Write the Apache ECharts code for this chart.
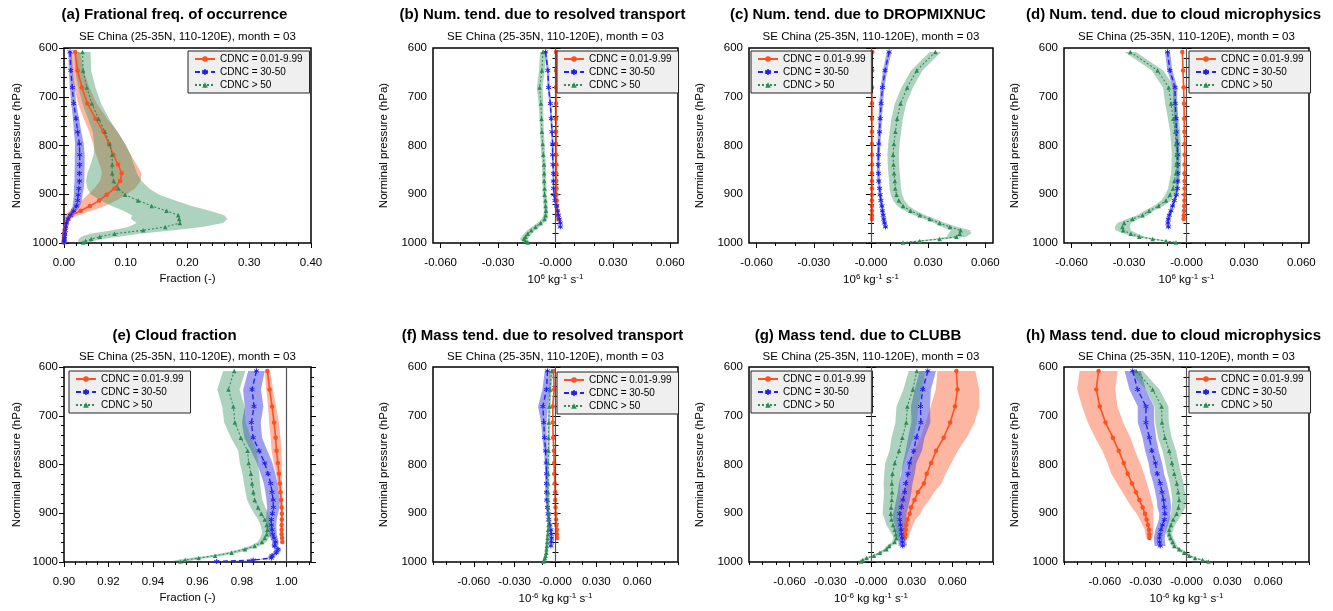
<!DOCTYPE html>
<html>
<head>
<meta charset="utf-8">
<title>CDNC profiles</title>
<script src="https://cdn.jsdelivr.net/npm/echarts@6.0.0/dist/echarts.min.js"></script>
<style>
  html, body { margin: 0; padding: 0; background: #fff; }
  #main { width: 1333px; height: 611px; }
</style>
</head>
<body>
<div id="main"></div>
<script>
// model levels (hPa)
var LEV = [608, 646, 681, 714, 745, 772, 797, 819, 839, 857, 873, 888, 901, 913, 924, 934, 943, 951, 959, 967, 974, 981, 987, 992, 996, 999];
var NAMES = ['CDNC = 0.01-9.99', 'CDNC = 30-50', 'CDNC > 50'];

// tick labels
var FRAC_TICKS = [0, 0.1, 0.2, 0.3, 0.4];
var CF_TICKS = [0.90, 0.92, 0.94, 0.96, 0.98, 1.00];
var TEND_TICKS = [-0.06, -0.03, 0, 0.03, 0.06];
var P_TICKS = [600, 700, 800, 900, 1000];

// (a) fractional frequency of occurrence
var aOrange = [0.018, 0.022, 0.029, 0.038, 0.051, 0.064, 0.073, 0.080, 0.0875, 0.0935, 0.091, 0.082, 0.069, 0.057, 0.042, 0.027, 0.012, 0.0065, 0.004, 0.002, 0.001, 0.0005, 0.0003, 0.0002, 0.0001, 0];
var aOrangeSd = [0.008, 0.010, 0.012, 0.015, 0.019, 0.023, 0.026, 0.028, 0.030, 0.032, 0.033, 0.033, 0.031, 0.028, 0.024, 0.018, 0.010, 0.005, 0.003, 0.002, 0.001, 0.001, 0.001, 0.001, 0.001, 0.001];
var aBlue = [0.0097, 0.011, 0.0135, 0.0157, 0.0195, 0.022, 0.025, 0.0254, 0.0254, 0.025, 0.025, 0.024, 0.023, 0.022, 0.020, 0.0157, 0.010, 0.0065, 0.004, 0.003, 0.002, 0.0012, 0.0008, 0.0005, 0.0002, 0.0001];
var aBlueSd = [0.003, 0.003, 0.004, 0.004, 0.005, 0.006, 0.007, 0.008, 0.008, 0.008, 0.008, 0.008, 0.007, 0.007, 0.006, 0.005, 0.004, 0.003, 0.002, 0.002, 0.001, 0.001, 0.001, 0.001, 0.001, 0.001];
var aGreen = [0.030, 0.031, 0.037, 0.045, 0.056, 0.0665, 0.074, 0.078, 0.078, 0.078, 0.0805, 0.088, 0.099, 0.120, 0.142, 0.166, 0.185, 0.1865, 0.1876, 0.164, 0.128, 0.082, 0.058, 0.044, 0.035, 0.031];
var aGreenSd = [0.013, 0.013, 0.014, 0.015, 0.017, 0.020, 0.025, 0.030, 0.035, 0.040, 0.045, 0.050, 0.055, 0.060, 0.065, 0.070, 0.075, 0.078, 0.070, 0.060, 0.050, 0.040, 0.030, 0.020, 0.012, 0.008];

// (b) number tendency, resolved transport
var bOrange = [0.0003, 0.0003, 0.0003, 0.0003, 0.0003, 0.0003, 0.0003, 0.0003, 0.0004, 0.0004, 0.0004, 0.0005, 0.0005, 0.0006, 0.0007, 0.0009, 0.0012, 0.0015];
var bOrangeSd = [0.0004, 0.0004, 0.0004, 0.0004, 0.0004, 0.0004, 0.0004, 0.0004, 0.0004, 0.0004, 0.0004, 0.0004, 0.0004, 0.0004, 0.0004, 0.0004, 0.0004, 0.0004];
var bBlue = [-0.0052, -0.004, -0.0036, -0.0027, -0.0022, -0.0018, -0.0015, -0.0015, -0.0013, -0.0011, -0.0011, -0.001, -0.0008, -0.0003, 0.0006, 0.0011, 0.0015, 0.002, 0.0025, 0.0025];
var bBlueSd = [0.0006, 0.0006, 0.0006, 0.0005, 0.0005, 0.0005, 0.0005, 0.0005, 0.0005, 0.0005, 0.0005, 0.0005, 0.0005, 0.0005, 0.0005, 0.0005, 0.0005, 0.0005, 0.0006, 0.0006];
var bGreen = [-0.0066, -0.0071, -0.0083, -0.0076, -0.0073, -0.0071, -0.0067, -0.0064, -0.006, -0.0059, -0.0059, -0.0057, -0.0057, -0.0053, -0.0052, -0.005, -0.0052, -0.0057, -0.0078, -0.0104, -0.0127, -0.0145, -0.0157, -0.0166, -0.0157, -0.0145];
var bGreenSd = [0.0015, 0.0015, 0.0015, 0.0012, 0.001, 0.001, 0.001, 0.001, 0.001, 0.001, 0.001, 0.001, 0.001, 0.001, 0.001, 0.001, 0.0012, 0.0015, 0.0018, 0.002, 0.002, 0.002, 0.002, 0.002, 0.0018, 0.0015];

// (c) number tendency, DROPMIXNUC
var cOrange = [0.0007, 0.0006, 0.0005, 0.0005, 0.0005, 0.0005, 0.0005, 0.0005, 0.0005, 0.0005, 0.0005, 0.0005, 0.0005, 0.0005, 0.0005, 0.0005, 0.0005, 0.0005];
var cOrangeSd = [0.0003, 0.0003, 0.0003, 0.0003, 0.0003, 0.0003, 0.0003, 0.0003, 0.0003, 0.0003, 0.0003, 0.0003, 0.0003, 0.0003, 0.0003, 0.0003, 0.0003, 0.0003];
var cBlue = [0.0095, 0.0074, 0.006, 0.0053, 0.0048, 0.0045, 0.0041, 0.0039, 0.0038, 0.0039, 0.0041, 0.0045, 0.0048, 0.0052, 0.0057, 0.006, 0.0064, 0.0067, 0.0071, 0.0076];
var cBlueSd = [0.0012, 0.0011, 0.001, 0.001, 0.0009, 0.0009, 0.0008, 0.0008, 0.0008, 0.0008, 0.0008, 0.0008, 0.0008, 0.0008, 0.0008, 0.0008, 0.0008, 0.0008, 0.0008, 0.0008];
var cGreen = [0.0338, 0.024, 0.019, 0.0155, 0.0137, 0.0128, 0.012, 0.0116, 0.0118, 0.0121, 0.0125, 0.0127, 0.0134, 0.0146, 0.0168, 0.0207, 0.0256, 0.0308, 0.036, 0.0413, 0.047, 0.0466, 0.0448, 0.036, 0.0256, 0.0168];
var cGreenSd = [0.003, 0.003, 0.003, 0.003, 0.003, 0.003, 0.003, 0.003, 0.003, 0.003, 0.003, 0.003, 0.003, 0.003, 0.003, 0.003, 0.003, 0.003, 0.003, 0.004, 0.005, 0.006, 0.005, 0.004, 0.003, 0.002];

// (d) number tendency, cloud microphysics
var dOrange = [-0.0022, -0.0018, -0.0015, -0.0013, -0.0012, -0.0011, -0.001, -0.001, -0.001, -0.001, -0.001, -0.001, -0.001, -0.0011, -0.0012, -0.0013, -0.0014, -0.0015];
var dOrangeSd = [0.0003, 0.0003, 0.0003, 0.0003, 0.0003, 0.0003, 0.0003, 0.0003, 0.0003, 0.0003, 0.0003, 0.0003, 0.0003, 0.0003, 0.0003, 0.0003, 0.0003, 0.0003];
var dBlue = [-0.0099, -0.0087, -0.006, -0.0059, -0.0055, -0.0053, -0.0048, -0.0046, -0.0046, -0.0046, -0.0046, -0.0048, -0.0053, -0.0064, -0.0073, -0.0081, -0.009, -0.0095, -0.0097, -0.0095];
var dBlueSd = [0.0013, 0.0013, 0.0012, 0.001, 0.001, 0.0009, 0.0008, 0.0008, 0.0008, 0.0008, 0.0008, 0.0008, 0.0008, 0.0008, 0.0008, 0.0008, 0.0008, 0.0008, 0.0008, 0.0008];
var dGreen = [-0.0294, -0.0151, -0.0093, -0.0081, -0.0069, -0.0059, -0.0055, -0.0052, -0.0053, -0.0055, -0.0064, -0.0071, -0.0087, -0.0107, -0.0146, -0.0195, -0.023, -0.0282, -0.0326, -0.0335, -0.0331, -0.0291, -0.0247, -0.0177, -0.0107, -0.0055];
var dGreenSd = [0.003, 0.003, 0.003, 0.003, 0.0028, 0.0026, 0.0025, 0.0025, 0.0025, 0.0025, 0.0025, 0.0025, 0.0025, 0.0025, 0.0025, 0.0025, 0.0028, 0.003, 0.0035, 0.004, 0.004, 0.0035, 0.003, 0.0025, 0.002, 0.0015];

// (e) cloud fraction
var eOrange = [0.9914, 0.9924, 0.9935, 0.9944, 0.9951, 0.9955, 0.9961, 0.9966, 0.997, 0.9973, 0.9976, 0.9978, 0.9979, 0.9979, 0.9978, 0.9978, 0.9978, 0.998, 0.9981];
var eOrangeSd = [0.0012, 0.0015, 0.0018, 0.0022, 0.0022, 0.0022, 0.0018, 0.0012, 0.001, 0.0008, 0.0007, 0.0007, 0.0006, 0.0006, 0.0006, 0.0006, 0.0006, 0.0006, 0.0006];
var eBlue = [0.9865, 0.9845, 0.9854, 0.9842, 0.985, 0.9877, 0.9902, 0.9917, 0.9929, 0.9935, 0.994, 0.9941, 0.9936, 0.9932, 0.9932, 0.9935, 0.9938, 0.9944, 0.995, 0.9947, 0.9961, 0.9954, 0.9935, 0.9932, 0.985, 0.9686];
var eBlueSd = [0.0037, 0.004, 0.0042, 0.0042, 0.004, 0.0037, 0.0035, 0.0033, 0.0031, 0.003, 0.003, 0.0028, 0.0026, 0.0024, 0.0022, 0.002, 0.0018, 0.0016, 0.0015, 0.0015, 0.0015, 0.0015, 0.0015, 0.0015, 0.0015, 0.0015];
var eGreen = [0.9765, 0.9739, 0.9761, 0.9768, 0.9795, 0.9825, 0.983, 0.984, 0.9845, 0.9851, 0.9857, 0.9872, 0.9887, 0.9902, 0.9911, 0.9914, 0.9911, 0.9902, 0.989, 0.9857, 0.9813, 0.9753, 0.9679, 0.9605, 0.9545, 0.9523];
var eGreenSd = [0.005, 0.005, 0.005, 0.0048, 0.0045, 0.0042, 0.004, 0.0038, 0.0036, 0.0035, 0.0034, 0.0033, 0.0032, 0.003, 0.0028, 0.0025, 0.0022, 0.002, 0.002, 0.0022, 0.0025, 0.003, 0.0035, 0.004, 0.004, 0.004];

// (f) mass tendency, resolved transport
var fOrange = [-0.0015, -0.001, -0.002, -0.002, -0.0017, -0.0012, -0.001, -0.0008, -0.0005, -0.0002, -0.0002, 0, 0.0002, 0.0005, 0.0007, 0.001, 0.001, 0.0012];
var fOrangeSd = [0.0006, 0.0006, 0.0006, 0.0005, 0.0005, 0.0005, 0.0005, 0.0005, 0.0005, 0.0005, 0.0005, 0.0005, 0.0005, 0.0005, 0.0005, 0.0005, 0.0005, 0.0005];
var fBlue = [-0.0059, -0.0066, -0.0093, -0.0086, -0.0081, -0.0073, -0.0068, -0.0066, -0.0066, -0.0066, -0.0064, -0.0059, -0.0054, -0.0049, -0.0042, -0.0034, -0.0032, -0.0029, -0.0032, -0.0034];
var fBlueSd = [0.002, 0.003, 0.0035, 0.002, 0.0015, 0.0012, 0.001, 0.001, 0.001, 0.001, 0.001, 0.001, 0.001, 0.001, 0.001, 0.001, 0.001, 0.001, 0.001, 0.001];
var fGreen = [-0.0029, -0.0039, -0.0046, -0.0049, -0.0051, -0.0051, -0.0054, -0.0054, -0.0054, -0.0054, -0.0054, -0.0054, -0.0051, -0.0051, -0.0051, -0.0054, -0.0056, -0.0059, -0.0061, -0.0064, -0.0066, -0.0068, -0.0073, -0.0078, -0.0083, -0.0088];
var fGreenSd = [0.001, 0.001, 0.001, 0.001, 0.001, 0.001, 0.001, 0.001, 0.001, 0.001, 0.001, 0.001, 0.001, 0.001, 0.001, 0.001, 0.001, 0.001, 0.001, 0.001, 0.001, 0.001, 0.001, 0.001, 0.001, 0.001];

// (g) mass tendency, CLUBB
var gOrange = [0.063, 0.0638, 0.062, 0.0584, 0.0536, 0.048, 0.0443, 0.0411, 0.039, 0.0346, 0.0321, 0.0295, 0.0285, 0.0268, 0.026, 0.0256, 0.0253, 0.025];
var gOrangeSd = [0.014, 0.016, 0.018, 0.018, 0.017, 0.016, 0.015, 0.014, 0.013, 0.012, 0.011, 0.009, 0.008, 0.006, 0.005, 0.004, 0.003, 0.003];
var gBlue = [0.0419, 0.0382, 0.0365, 0.0368, 0.0334, 0.0316, 0.0285, 0.0273, 0.0256, 0.0248, 0.0236, 0.0224, 0.0212, 0.0212, 0.0217, 0.0222, 0.0224, 0.0229, 0.0231, 0.0234];
var gBlueSd = [0.006, 0.006, 0.007, 0.007, 0.006, 0.006, 0.005, 0.005, 0.005, 0.005, 0.005, 0.005, 0.005, 0.005, 0.004, 0.004, 0.003, 0.003, 0.003, 0.003];
var gGreen = [0.0338, 0.0309, 0.0268, 0.026, 0.0231, 0.0207, 0.0175, 0.0158, 0.0153, 0.0156, 0.0153, 0.0148, 0.0146, 0.0151, 0.0163, 0.0175, 0.0183, 0.0187, 0.0175, 0.0134, 0.0114, 0.0066, 0.0022, -0.0032, -0.0061, -0.0073];
var gGreenSd = [0.006, 0.007, 0.008, 0.008, 0.008, 0.007, 0.007, 0.006, 0.006, 0.006, 0.006, 0.006, 0.006, 0.005, 0.005, 0.004, 0.003, 0.002, 0.002, 0.002, 0.002, 0.002, 0.002, 0.002, 0.002, 0.002];

// (h) mass tendency, cloud microphysics
var hOrange = [-0.0646, -0.0663, -0.0637, -0.0595, -0.0541, -0.0498, -0.0461, -0.0432, -0.04, -0.0371, -0.0346, -0.0322, -0.0305, -0.0293, -0.0283, -0.0276, -0.0273, -0.0273];
var hOrangeSd = [0.014, 0.014, 0.013, 0.013, 0.013, 0.012, 0.012, 0.012, 0.011, 0.01, 0.009, 0.008, 0.006, 0.005, 0.004, 0.003, 0.003, 0.002];
var hBlue = [-0.0395, -0.0359, -0.0298, -0.0298, -0.0273, -0.0254, -0.0229, -0.0215, -0.0193, -0.018, -0.0168, -0.0163, -0.0159, -0.0163, -0.0176, -0.0188, -0.0195, -0.02, -0.0198, -0.0193];
var hBlueSd = [0.006, 0.006, 0.006, 0.006, 0.005, 0.005, 0.005, 0.005, 0.005, 0.005, 0.005, 0.005, 0.004, 0.004, 0.004, 0.004, 0.004, 0.004, 0.004, 0.004];
var hGreen = [-0.037, -0.0249, -0.0183, -0.018, -0.0159, -0.0127, -0.0107, -0.009, -0.0071, -0.0061, -0.0054, -0.0059, -0.0073, -0.0098, -0.0115, -0.0127, -0.0127, -0.0117, -0.0102, -0.009, -0.0054, -0.0017, 0.002, 0.0063, 0.0117, 0.0161];
var hGreenSd = [0.005, 0.005, 0.005, 0.005, 0.005, 0.005, 0.005, 0.005, 0.005, 0.005, 0.005, 0.005, 0.004, 0.004, 0.003, 0.003, 0.002, 0.002, 0.002, 0.002, 0.002, 0.002, 0.002, 0.002, 0.002, 0.002];

var FONT = '"Liberation Sans", Arial, Helvetica, sans-serif';
var COLORS = ['#ff5020', '#2222ee', '#2e8b57'];
var BANDS = ['rgba(250,110,70,0.5)', 'rgba(80,80,225,0.55)', 'rgba(60,150,100,0.42)'];
var SUB = 'SE China (25-35N, 110-120E), month = 03';
var NUM_UNIT = '{a|10}{s|6}{a| kg}{s|-1}{a| s}{s|-1}';
var MASS_UNIT = '{a|10}{s|-6}{a| kg kg}{s|-1}{a| s}{s|-1}';

function fmt2(v) { return v.toFixed(2); }
function fmtTend(v) { return Math.abs(v) < 1e-9 ? '-0.000' : v.toFixed(3); }
function steps(a, b, d) {
  var out = [];
  for (var v = a; v <= b + d / 100; v += d) out.push(Math.round(v * 100000) / 100000);
  return out;
}

var panels = [
  { t: '(a) Frational freq. of occurrence', grid: [64, 48, 247, 195], xName: 'Fraction (-)', min: 0, max: 0.4, ticks: FRAC_TICKS, minors: steps(0, 0.4, 0.02), fmt: fmt2, ref: null, leg: [188, 51], nameGap: 41, data: [[aOrange, aOrangeSd], [aBlue, aBlueSd], [aGreen, aGreenSd]] },
  { t: '(b) Num. tend. due to resolved transport', grid: [433, 48, 245, 195], xName: NUM_UNIT, min: -0.064, max: 0.064, ticks: TEND_TICKS, minors: steps(-0.06, 0.06, 0.01), fmt: fmtTend, ref: 0, leg: [557, 51], nameGap: 43, data: [[bOrange, bOrangeSd], [bBlue, bBlueSd], [bGreen, bGreenSd]] },
  { t: '(c) Num. tend. due to DROPMIXNUC', grid: [749, 48, 244, 195], xName: NUM_UNIT, min: -0.064, max: 0.064, ticks: TEND_TICKS, minors: steps(-0.06, 0.06, 0.01), fmt: fmtTend, ref: 0, leg: [751, 51], nameGap: 43, data: [[cOrange, cOrangeSd], [cBlue, cBlueSd], [cGreen, cGreenSd]] },
  { t: '(d) Num. tend. due to cloud microphysics', grid: [1064, 48, 245, 195], xName: NUM_UNIT, min: -0.064, max: 0.064, ticks: TEND_TICKS, minors: steps(-0.06, 0.06, 0.01), fmt: fmtTend, ref: 0, leg: [1189, 51], nameGap: 43, data: [[dOrange, dOrangeSd], [dBlue, dBlueSd], [dGreen, dGreenSd]] },
  { t: '(e) Cloud fraction', grid: [64, 367, 247, 195], xName: 'Fraction (-)', min: 0.9, max: 1.011, ticks: CF_TICKS, minors: steps(0.9, 1.01, 0.005), fmt: fmt2, ref: 1.0, leg: [69, 371], nameGap: 41, data: [[eOrange, eOrangeSd], [eBlue, eBlueSd], [eGreen, eGreenSd]] },
  { t: '(f) Mass tend. due to resolved transport', grid: [433, 367, 245, 195], xName: MASS_UNIT, min: -0.09, max: 0.09, ticks: TEND_TICKS, minors: steps(-0.09, 0.09, 0.01), fmt: fmtTend, ref: 0, leg: [557, 372], nameGap: 43, data: [[fOrange, fOrangeSd], [fBlue, fBlueSd], [fGreen, fGreenSd]] },
  { t: '(g) Mass tend. due to CLUBB', grid: [749, 367, 244, 195], xName: MASS_UNIT, min: -0.09, max: 0.09, ticks: TEND_TICKS, minors: steps(-0.09, 0.09, 0.01), fmt: fmtTend, ref: 0, leg: [751, 371], nameGap: 43, data: [[gOrange, gOrangeSd], [gBlue, gBlueSd], [gGreen, gGreenSd]] },
  { t: '(h) Mass tend. due to cloud microphysics', grid: [1064, 367, 245, 195], xName: MASS_UNIT, min: -0.09, max: 0.09, ticks: TEND_TICKS, minors: steps(-0.09, 0.09, 0.01), fmt: fmtTend, ref: 0, leg: [1189, 371], nameGap: 43, data: [[hOrange, hOrangeSd], [hBlue, hBlueSd], [hGreen, hGreenSd]] }
];

var STAR = 'path://M5,0L5,10M0.7,2.5L9.3,7.5M0.7,7.5L9.3,2.5';
var styles = [
  { symbol: 'circle', symbolSize: 4.5, lineStyle: { color: COLORS[0], width: 1.6, type: 'solid' }, itemStyle: { color: COLORS[0] } },
  { symbol: STAR, symbolSize: 5, lineStyle: { color: COLORS[1], width: 1.4, type: [5, 3] }, itemStyle: { color: COLORS[1], borderColor: COLORS[1], borderWidth: 1 } },
  { symbol: 'triangle', symbolSize: 4.5, lineStyle: { color: COLORS[2], width: 1.1, type: [2, 2] }, itemStyle: { color: COLORS[2] } }
];

var grids = [], xAxes = [], yAxes = [], series = [], legends = [], graphics = [];
var black = { color: '#000', width: 1 };

panels.forEach(function (p, k) {
  var g = p.grid;
  grids.push({ left: g[0], top: g[1], width: g[2], height: g[3], show: true, borderColor: '#000', borderWidth: 1.5, backgroundColor: 'transparent' });
  var cx = g[0] + g[2] / 2;
  var row0 = g[1] < 200;
  graphics.push({ type: 'text', x: cx - 13, y: row0 ? 15 : 336, style: { text: p.t, font: 'bold 15px ' + FONT, fill: '#000', textAlign: 'center', textVerticalAlign: 'middle' } });
  graphics.push({ type: 'text', x: cx, y: row0 ? 37 : 357, style: { text: SUB, font: '11.5px ' + FONT, fill: '#000', textAlign: 'center', textVerticalAlign: 'middle' } });

  // main x axis with labels
  xAxes.push({
    gridIndex: k, type: 'value', position: 'bottom', min: p.min, max: p.max,
    axisLine: { show: false }, splitLine: { show: false },
    axisTick: { customValues: p.ticks, length: 5, lineStyle: black },
    axisLabel: { customValues: p.ticks, formatter: p.fmt, margin: 14, fontSize: 11.5, color: '#000', fontFamily: FONT },
    name: p.xName, nameLocation: 'middle', nameGap: 30,
    nameTextStyle: { fontSize: 11.5, color: '#000', fontFamily: FONT, rich: { a: { fontSize: 11.5, fontFamily: FONT, color: '#000', lineHeight: 14 }, s: { fontSize: 8, fontFamily: FONT, color: '#000', verticalAlign: 'top', lineHeight: 8 } } }
  });
  // minor ticks
  xAxes.push({
    gridIndex: k, type: 'value', position: 'bottom', min: p.min, max: p.max,
    axisLine: { show: false }, splitLine: { show: false }, axisLabel: { show: false },
    axisTick: { customValues: p.minors, length: 3, lineStyle: black }
  });
  var yBase = {
    gridIndex: k, type: 'value', inverse: true, min: 600, max: 1000, interval: 100,
    axisLine: { show: false }, splitLine: { show: false },
    axisTick: { length: 5, lineStyle: black },
    minorTick: { show: true, splitNumber: 5, length: 3, lineStyle: black }
  };
  yAxes.push(Object.assign({}, yBase, {
    position: 'left',
    axisLabel: { customValues: P_TICKS, formatter: function (v) { return String(v); }, margin: 6, fontSize: 11.5, color: '#000', fontFamily: FONT },
    name: 'Norminal pressure (hPa)', nameLocation: 'middle', nameGap: p.nameGap,
    nameTextStyle: { fontSize: 11.5, color: '#000', fontFamily: FONT }
  }));
  yAxes.push(Object.assign({}, yBase, { position: 'right', axisLabel: { show: false } }));

  var xi = 2 * k, yi = 2 * k;
  p.data.forEach(function (d, j) {
    var vals = d[0], sd = d[1];
    series.push({
      type: 'custom', name: 'band' + k + j, xAxisIndex: xi, yAxisIndex: yi, silent: true, clip: true, z: 1,
      data: vals.map(function (v, i) { return [v - sd[i], v + sd[i], LEV[i]]; }),
      encode: { x: [0, 1], y: 2 },
      renderItem: function (params, api) {
        if (params.dataIndex !== 0) return null;
        var lo = [], hi = [];
        for (var i = 0; i < vals.length; i++) {
          lo.push(api.coord([vals[i] - sd[i], LEV[i]]));
          hi.push(api.coord([vals[i] + sd[i], LEV[i]]));
        }
        return { type: 'polygon', shape: { points: lo.concat(hi.reverse()) }, style: { fill: BANDS[j], stroke: null } };
      }
    });
  });
  p.data.forEach(function (d, j) {
    var s = styles[j];
    var line = {
      type: 'line', name: NAMES[j], xAxisIndex: xi, yAxisIndex: yi, z: 3 + j,
      data: d[0].map(function (v, i) { return [v, LEV[i]]; }),
      symbol: s.symbol, symbolSize: s.symbolSize, showSymbol: true,
      lineStyle: s.lineStyle, itemStyle: s.itemStyle, color: s.itemStyle.color
    };
    if (j === 0 && p.ref !== null) {
      line.markLine = { silent: true, symbol: 'none', label: { show: false }, lineStyle: { color: '#555', width: 1.2, type: 'solid' }, data: [{ xAxis: p.ref }] };
    }
    series.push(line);
  });

  legends.push({
    data: NAMES, orient: 'vertical', left: p.leg[0], top: p.leg[1],
    itemWidth: 20, itemHeight: 7, itemGap: 3, padding: [3, 7, 3, 6],
    backgroundColor: '#efefef', borderColor: '#222', borderWidth: 1, borderRadius: 0,
    textStyle: { fontSize: 10, color: '#000', fontFamily: FONT },
    selectedMode: false
  });
});

var chart = echarts.init(document.getElementById('main'));
chart.setOption({
  animation: false,
  backgroundColor: '#fff',
  textStyle: { fontFamily: FONT },
  grid: grids,
  xAxis: xAxes,
  yAxis: yAxes,
  legend: legends,
  graphic: graphics,
  series: series
});
</script>
</body>
</html>
